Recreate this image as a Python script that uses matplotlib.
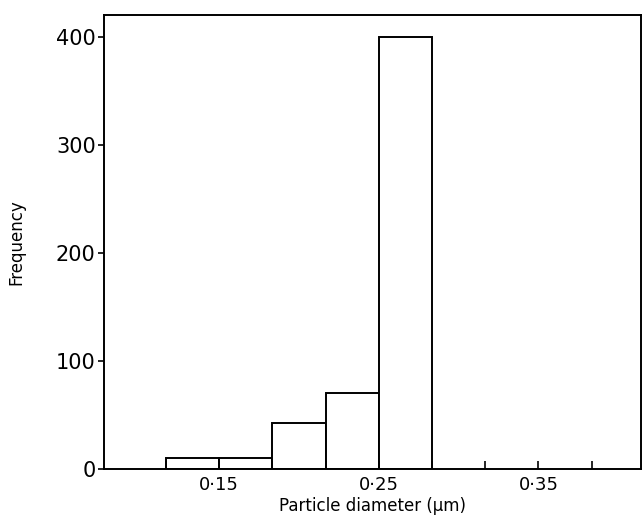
import matplotlib.pyplot as plt
import numpy as np

# bin edges (um) and counts
bin_edges = [0.1167, 0.15, 0.1833, 0.2167, 0.25, 0.2833]
counts = [10, 10, 43, 70, 400]

# x tick positions along the axis and which get a label
x_ticks = [0.1167, 0.15, 0.1833, 0.2167, 0.25, 0.2833, 0.3167, 0.35, 0.3833]
x_labels = ["", "0·15", "", "", "0·25", "", "", "0·35", ""]
y_ticks = [0, 100, 200, 300, 400]

fig = plt.figure(figsize=(6.42, 5.22), dpi=100)
ax = fig.add_axes([0.162, 0.1015, 0.836, 0.8695])

widths = np.diff(bin_edges)
ax.bar(bin_edges[:-1], counts, width=widths, align="edge",
       facecolor="white", edgecolor="black", linewidth=1.4)

ax.set_xlim(0.078, 0.414)
ax.set_ylim(0, 420)

ax.set_xticks(x_ticks)
ax.set_xticklabels(x_labels, fontsize=13)
ax.tick_params(axis="x", direction="in", length=6, width=1.2, pad=5)
ax.set_yticks(y_ticks)
ax.set_yticklabels([str(v) for v in y_ticks], fontsize=15)
ax.tick_params(axis="y", direction="out", length=4, width=1.2, pad=2)

for s in ax.spines.values():
    s.set_linewidth(1.4)

ax.set_xlabel("Particle diameter (μm)", fontsize=12, labelpad=2)
ax.set_ylabel("Frequency", fontsize=12, labelpad=22)

plt.savefig("out.png", dpi=100)
plt.close()
